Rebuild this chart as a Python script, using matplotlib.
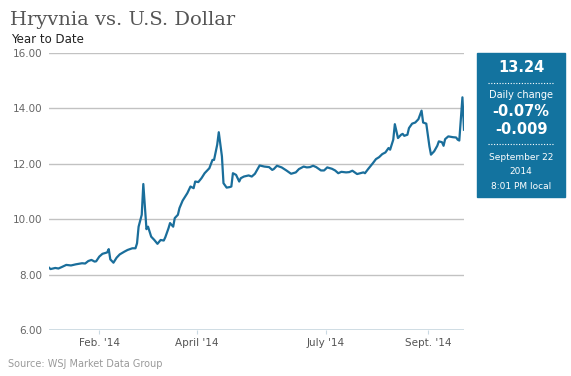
import matplotlib
matplotlib.use("Agg")
from matplotlib import pyplot as plt
from matplotlib.lines import Line2D
from matplotlib.patches import Rectangle

# days since Jan 1 2014
days = [0, 1, 4, 6, 8, 11, 14, 17, 21, 23, 25, 27, 29, 30, 32, 34, 37, 38, 39, 41,
        43, 45, 48, 50, 53, 55, 56, 57, 59, 60, 62, 63, 65, 67, 69, 71, 73, 74, 76, 77,
        79, 80, 82, 83, 85, 88, 90, 92, 93, 95, 97, 99, 102, 104, 105, 107, 108, 110, 111, 113,
        115, 116, 117, 119, 121, 122, 124, 127, 129, 131, 133, 134, 137, 140, 142, 143, 145, 148, 151, 154,
        157, 159, 162, 164, 166, 168, 170, 173, 175, 177, 180, 182, 184, 186, 189, 191, 193, 196, 198, 200,
        201, 203, 206, 208, 210, 212, 214, 216, 217, 219, 220, 222, 224, 225, 226, 228, 229, 231, 233, 235,
        237, 238, 240, 242, 243, 245, 247, 248, 250, 251, 252, 254, 257, 259, 260, 261, 263, 264]

rate = [8.25, 8.20, 8.24, 8.22, 8.27, 8.35, 8.33, 8.37, 8.41, 8.40, 8.49, 8.53, 8.47, 8.48, 8.65, 8.75, 8.80, 8.92, 8.55, 8.43,
        8.61, 8.73, 8.83, 8.89, 8.95, 8.95, 9.13, 9.73, 10.16, 11.27, 9.64, 9.73, 9.37, 9.25, 9.11, 9.25, 9.23, 9.35, 9.67, 9.86,
        9.73, 10.04, 10.16, 10.40, 10.67, 10.94, 11.18, 11.12, 11.36, 11.34, 11.48, 11.66, 11.84, 12.14, 12.14, 12.69, 13.14, 12.27, 11.30, 11.14,
        11.16, 11.18, 11.66, 11.60, 11.36, 11.48, 11.54, 11.58, 11.54, 11.64, 11.84, 11.94, 11.90, 11.88, 11.78, 11.81, 11.93, 11.87, 11.76, 11.64,
        11.69, 11.81, 11.90, 11.87, 11.88, 11.93, 11.88, 11.76, 11.76, 11.87, 11.82, 11.76, 11.66, 11.71, 11.69, 11.70, 11.75, 11.63, 11.66, 11.69,
        11.66, 11.81, 12.02, 12.17, 12.24, 12.35, 12.41, 12.57, 12.51, 12.87, 13.43, 12.93, 13.05, 13.08, 13.01, 13.05, 13.29, 13.45, 13.49, 13.61,
        13.92, 13.49, 13.45, 12.63, 12.33, 12.45, 12.65, 12.81, 12.78, 12.65, 12.89, 12.99, 12.96, 12.95, 12.87, 12.84, 14.40, 13.23]

tick_days = [32, 94, 176, 241]
tick_labels = ["Feb. '14", "April '14", "July '14", "Sept. '14"]
y_ticks = [6, 8, 10, 12, 14, 16]

W, H = 571, 376
fig = plt.figure(figsize=(W / 100, H / 100), dpi=100)


def fx(px):
    return px / W


def fy(py):
    return 1 - py / H


ax = fig.add_axes([fx(49), fy(330), fx(464) - fx(49), fy(53) - fy(330)])
line_color = "#1a6e9b"
ax.plot(days, rate, color=line_color, lw=1.6, solid_joinstyle="round")
ax.set_xlim(0, 264)
ax.set_ylim(6, 16)

for s in ax.spines.values():
    s.set_visible(False)
ax.set_yticks(y_ticks)
ax.set_yticklabels(["%.2f" % v for v in y_ticks])
ax.yaxis.grid(True, color="#c2c2c2", lw=1)
ax.axhline(6, color="#c9d9e2", lw=1.2, zorder=1)
ax.tick_params(axis="y", length=0, pad=5, labelsize=7.5, labelcolor="#666666")
ax.set_xticks(tick_days)
ax.set_xticklabels(tick_labels)
ax.tick_params(axis="x", length=3, color="#c9d9e2", pad=3, labelsize=7.5, labelcolor="#555555")
ax.set_axisbelow(True)

fig.text(fx(10), fy(25), "Hryvnia vs. U.S. Dollar", fontsize=14, family="DejaVu Serif",
         color="#555555", va="baseline", ha="left")
fig.text(fx(11), fy(43), "Year to Date", fontsize=8.5, color="#222222", va="baseline", ha="left")
fig.text(fx(8), fy(367), "Source: WSJ Market Data Group", fontsize=7, color="#9a9a9a",
         va="baseline", ha="left")

# info box on the right
box_color = "#13739f"
fig.patches.append(Rectangle((fx(477), fy(197)), fx(565) - fx(477), fy(53) - fy(197),
                             transform=fig.transFigure, color=box_color, zorder=0))
cx = fx(521)
fig.text(cx, fy(68), "13.24", fontsize=10.5, fontweight="bold", color="white", ha="center", va="center")
fig.lines.append(Line2D([fx(488), fx(554)], [fy(83), fy(83)], transform=fig.transFigure,
                        color="white", lw=0.8, ls=(0, (1, 1.5))))
fig.text(cx, fy(95), "Daily change", fontsize=7, color="white", ha="center", va="center")
fig.text(cx, fy(112), "-0.07%", fontsize=10.5, fontweight="bold", color="white", ha="center", va="center")
fig.text(cx, fy(129), "-0.009", fontsize=10.5, fontweight="bold", color="white", ha="center", va="center")
fig.lines.append(Line2D([fx(488), fx(554)], [fy(144), fy(144)], transform=fig.transFigure,
                        color="white", lw=0.8, ls=(0, (1, 1.5))))
fig.text(cx, fy(158), "September 22", fontsize=6.5, color="white", ha="center", va="center")
fig.text(cx, fy(172), "2014", fontsize=6.5, color="white", ha="center", va="center")
fig.text(cx, fy(186), "8:01 PM local", fontsize=6.5, color="white", ha="center", va="center")

fig.savefig("out.png", dpi=100)
